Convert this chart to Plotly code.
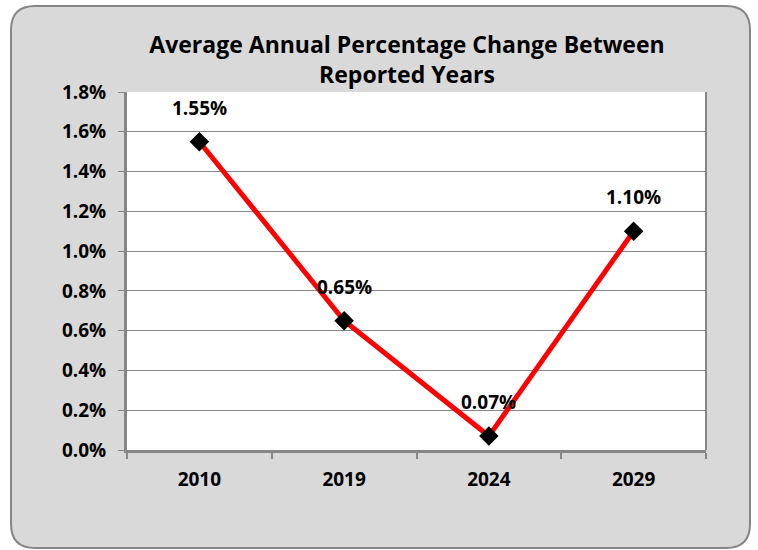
import plotly.graph_objects as go

years = ["2010", "2019", "2024", "2029"]
values = [1.55, 0.65, 0.07, 1.10]
labels = ["1.55%", "0.65%", "0.07%", "1.10%"]
y_ticks = [0.0, 0.2, 0.4, 0.6, 0.8, 1.0, 1.2, 1.4, 1.6, 1.8]
y_ticklabels = ["0.0%", "0.2%", "0.4%", "0.6%", "0.8%", "1.0%", "1.2%", "1.4%", "1.6%", "1.8%"]

W, H = 758, 550
L, R, T, B = 127, 52, 92, 100
pw, ph = W - L - R, H - T - B

def px2x(p):
    return (p - L) / pw

def py2y(p):
    return (H - B - p) / ph

FONT = "Open Sans"
GRAY = "#868686"
FS = 19

fig = go.Figure()
fig.add_trace(go.Scatter(
    x=years, y=values, mode="lines+markers",
    line=dict(color="#ff0000", width=5),
    marker=dict(symbol="diamond", size=15, color="#000000"),
    hoverinfo="skip", showlegend=False,
))

for i, (v, lab) in enumerate(zip(values, labels)):
    fig.add_annotation(x=i, y=v, text=lab, showarrow=False, yshift=34,
                       font=dict(family=FONT, size=FS, color="#000000", weight="bold"))

# outer rounded frame
x0, x1 = px2x(11), px2x(750)
y0, y1 = py2y(548), py2y(6)
rx, ry = 24 / pw, 24 / ph
path = (f"M {x0+rx},{y1} L {x1-rx},{y1} Q {x1},{y1} {x1},{y1-ry} "
        f"L {x1},{y0+ry} Q {x1},{y0} {x1-rx},{y0} L {x0+rx},{y0} "
        f"Q {x0},{y0} {x0},{y0+ry} L {x0},{y1-ry} Q {x0},{y1} {x0+rx},{y1} Z")
fig.add_shape(type="path", xref="paper", yref="paper", path=path,
              fillcolor="#d9d9d9", line=dict(color=GRAY, width=2), layer="below")
fig.add_shape(type="rect", xref="paper", yref="paper", x0=0, x1=1, y0=0, y1=1,
              fillcolor="#ffffff", line=dict(width=0), layer="below")

fig.update_layout(
    width=W, height=H,
    margin=dict(l=L, r=R, t=T, b=B),
    paper_bgcolor="#ffffff", plot_bgcolor="rgba(0,0,0,0)",
    title=dict(text="Average Annual Percentage Change Between<br>Reported Years",
               x=(L + px2x(407) * pw) / W, xanchor="center", y=1 - 53 / H, yanchor="top",
               font=dict(family=FONT, size=23, color="#000000", weight="bold")),
    font=dict(family=FONT, color="#000000"),
    xaxis=dict(type="category", range=[-0.5, 3.5], tickson="boundaries",
               ticks="outside", ticklen=6, tickcolor=GRAY, tickwidth=2,
               showline=True, linecolor=GRAY, linewidth=3, showgrid=False,
               ticklabelstandoff=10,
               tickfont=dict(family=FONT, size=FS, weight="bold")),
    yaxis=dict(range=[0, 1.8], tickvals=y_ticks, ticktext=y_ticklabels,
               ticks="outside", ticklen=6, tickcolor=GRAY, tickwidth=1,
               showline=True, linecolor=GRAY, linewidth=3,
               showgrid=True, gridcolor=GRAY, gridwidth=1, zeroline=False,
               ticklabelstandoff=8,
               tickfont=dict(family=FONT, size=FS, weight="bold")),
)
# right border of plot area
fig.add_shape(type="line", xref="paper", yref="paper", x0=1, x1=1, y0=0, y1=1,
              line=dict(color=GRAY, width=2))

fig.write_html("out.html", config={"displayModeBar": False},
               post_script="document.body.style.margin='0px';")
